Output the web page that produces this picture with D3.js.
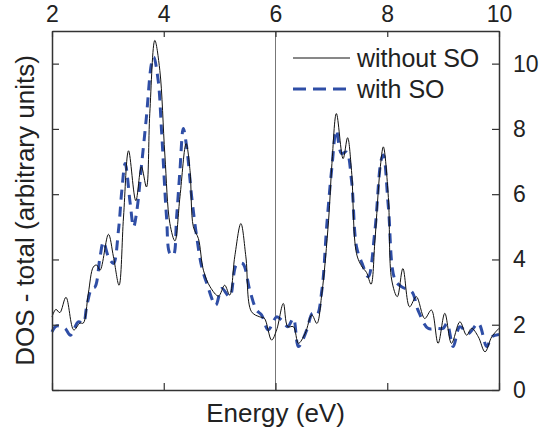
<!DOCTYPE html>
<html>
<head>
<meta charset="utf-8">
<script src="https://cdn.jsdelivr.net/npm/d3@7"></script>
<style>
  html, body { margin: 0; padding: 0; background: #fff; }
  text { font-family: "Liberation Sans", Arial, Helvetica, sans-serif; fill: #222; }
</style>
</head>
<body>
<script>
// energy (eV) and DOS
const energyNoSO = [2.00, 2.07, 2.14, 2.25, 2.39, 2.50, 2.56, 2.65, 2.74, 2.80, 2.86, 3.01, 3.10, 3.20, 3.28, 3.37,
  3.50, 3.60, 3.69, 3.75, 3.84, 3.93, 4.02, 4.11, 4.20, 4.29, 4.40, 4.47, 4.53, 4.62, 4.71, 4.83, 4.98, 5.09, 5.18,
  5.27, 5.38, 5.47, 5.57, 5.72, 5.80, 5.93, 6.02, 6.14, 6.22, 6.32, 6.41, 6.53, 6.65, 6.74, 6.83, 6.95, 7.01, 7.09,
  7.21, 7.29, 7.36, 7.45, 7.55, 7.63, 7.71, 7.78, 7.87, 7.93, 8.02, 8.08, 8.18, 8.28, 8.40, 8.52, 8.67, 8.79, 8.91,
  9.03, 9.15, 9.30, 9.42, 9.51, 9.63, 9.75, 9.87, 10.00];
const dosNoSO = [2.24, 2.47, 2.37, 2.84, 1.84, 2.05, 2.05, 2.96, 3.77, 3.83, 3.67, 4.77, 4.08, 3.21, 5.30, 7.33,
  5.80, 6.84, 6.22, 8.47, 10.71, 9.79, 7.20, 5.10, 4.57, 5.92, 7.55, 6.73, 5.00, 4.64, 3.67, 3.16, 2.88, 3.21, 2.91,
  4.08, 5.10, 4.08, 2.40, 2.24, 2.20, 1.53, 1.84, 2.65, 1.94, 1.94, 1.43, 1.73, 2.30, 2.04, 2.96, 5.20, 6.94, 8.47,
  7.09, 7.73, 6.73, 4.18, 3.77, 3.60, 3.24, 4.59, 6.73, 7.45, 5.90, 3.37, 2.86, 3.72, 2.55, 2.86, 2.19, 2.45, 1.43,
  2.35, 1.43, 2.09, 1.68, 1.89, 1.63, 1.17, 1.63, 1.89];

const energySO = [2.00, 2.08, 2.23, 2.33, 2.47, 2.56, 2.62, 2.71, 2.77, 2.86, 2.92, 3.01, 3.10, 3.19, 3.25, 3.31,
  3.40, 3.46, 3.52, 3.60, 3.69, 3.78, 3.82, 3.90, 3.96, 4.05, 4.11, 4.17, 4.23, 4.29, 4.35, 4.41, 4.50, 4.59, 4.68,
  4.77, 4.93, 5.04, 5.18, 5.30, 5.41, 5.54, 5.66, 5.75, 5.87, 6.02, 6.11, 6.22, 6.32, 6.41, 6.56, 6.66, 6.74, 6.83,
  6.92, 7.01, 7.09, 7.18, 7.27, 7.36, 7.45, 7.55, 7.66, 7.78, 7.89, 7.93, 8.02, 8.14, 8.26, 8.44, 8.55, 8.73, 8.88,
  9.00, 9.07, 9.18, 9.30, 9.45, 9.63, 9.78, 9.87, 10.00];
const dosSO = [1.78, 1.96, 1.89, 1.68, 2.09, 2.05, 2.55, 3.11, 3.16, 4.08, 4.54, 4.08, 3.88, 4.90, 6.12, 6.94,
  5.71, 5.00, 5.51, 6.84, 8.37, 10.00, 10.20, 9.49, 7.96, 5.30, 4.18, 4.13, 5.30, 6.73, 8.01, 7.45, 5.92, 4.69, 3.77,
  3.27, 2.60, 3.11, 2.86, 3.83, 3.88, 3.06, 2.45, 2.30, 1.84, 2.24, 2.14, 1.94, 2.19, 1.33, 1.84, 2.35, 2.30, 3.06,
  5.10, 6.84, 7.96, 7.25, 7.29, 6.43, 4.39, 3.88, 3.47, 4.90, 7.04, 7.20, 5.61, 3.37, 3.16, 3.01, 2.45, 1.89, 1.89,
  1.89, 2.04, 1.33, 1.94, 1.73, 2.04, 1.33, 1.63, 1.70];

const xTicks = [2, 4, 6, 8, 10];
const yTicks = [0, 2, 4, 6, 8, 10];
const legendLabels = ['without SO', 'with SO'];

const width = 542, height = 431;
const margin = { top: 31, right: 43, bottom: 41, left: 52 };
const innerW = width - margin.left - margin.right;
const innerH = height - margin.top - margin.bottom;
const blue = '#2f4ea6';
const axisColor = '#333';

const svg = d3.select('body').append('svg')
  .attr('width', width)
  .attr('height', height);

const g = svg.append('g').attr('transform', `translate(${margin.left},${margin.top})`);

const x = d3.scaleLinear().domain([2, 10]).range([0, innerW]);
const y = d3.scaleLinear().domain([0, 11]).range([innerH, 0]);

// vertical marker at 6 eV
g.append('line')
  .attr('x1', x(6)).attr('x2', x(6))
  .attr('y1', 0).attr('y2', innerH)
  .attr('stroke', '#777')
  .attr('stroke-width', 1);

const line = d3.line()
  .x(d => x(d[0]))
  .y(d => y(d[1]))
  .curve(d3.curveCatmullRom.alpha(0.5));

g.append('path')
  .datum(d3.zip(energySO, dosSO))
  .attr('d', line)
  .attr('fill', 'none')
  .attr('stroke', blue)
  .attr('stroke-width', 3)
  .attr('stroke-dasharray', '10,7');

g.append('path')
  .datum(d3.zip(energyNoSO, dosNoSO))
  .attr('d', line)
  .attr('fill', 'none')
  .attr('stroke', '#111')
  .attr('stroke-width', 1);

// axes: inward ticks, labels on top and right
const axTop = g.append('g')
  .call(d3.axisTop(x).tickValues(xTicks).tickSizeInner(-6).tickSizeOuter(0).tickPadding(9).tickFormat(d3.format('d')));
const axBottom = g.append('g')
  .attr('transform', `translate(0,${innerH})`)
  .call(d3.axisBottom(x).tickValues(xTicks).tickSizeInner(-7).tickSizeOuter(0).tickFormat(''));
const axLeft = g.append('g')
  .call(d3.axisLeft(y).tickValues(yTicks).tickSizeInner(-7).tickSizeOuter(0).tickFormat(''));
const axRight = g.append('g')
  .attr('transform', `translate(${innerW},0)`)
  .call(d3.axisRight(y).tickValues(yTicks).tickSizeInner(-7).tickSizeOuter(0).tickPadding(14).tickFormat(d3.format('d')));

[axTop, axBottom, axLeft, axRight].forEach(a => {
  a.select('.domain').attr('stroke', axisColor).attr('stroke-width', 1.5);
  a.selectAll('.tick line').attr('stroke', axisColor).attr('stroke-width', 1.2);
  a.selectAll('.tick text').attr('font-size', 23).attr('fill', '#222')
    .attr('font-family', '"Liberation Sans", Arial, sans-serif');
});

// axis titles
svg.append('text')
  .attr('x', margin.left + innerW / 2)
  .attr('y', 422)
  .attr('text-anchor', 'middle')
  .attr('font-size', 26)
  .text('Energy (eV)');

svg.append('text')
  .attr('transform', `translate(34,${margin.top + innerH / 2}) rotate(-90)`)
  .attr('text-anchor', 'middle')
  .attr('font-size', 26)
  .text('DOS - total (arbitrary units)');

// legend
const legend = svg.append('g').attr('transform', 'translate(293,58)');
legend.append('line')
  .attr('x1', 0).attr('x2', 57).attr('y1', 0).attr('y2', 0)
  .attr('stroke', '#111').attr('stroke-width', 1);
legend.append('line')
  .attr('x1', 0).attr('x2', 57).attr('y1', 31).attr('y2', 31)
  .attr('stroke', blue).attr('stroke-width', 3).attr('stroke-dasharray', '13,7');
legend.selectAll('text.lbl')
  .data(legendLabels)
  .enter()
  .append('text')
  .attr('class', 'lbl')
  .attr('x', 64)
  .attr('y', (d, i) => i * 31 + 9)
  .attr('font-size', 25)
  .text(d => d);
</script>
</body>
</html>
